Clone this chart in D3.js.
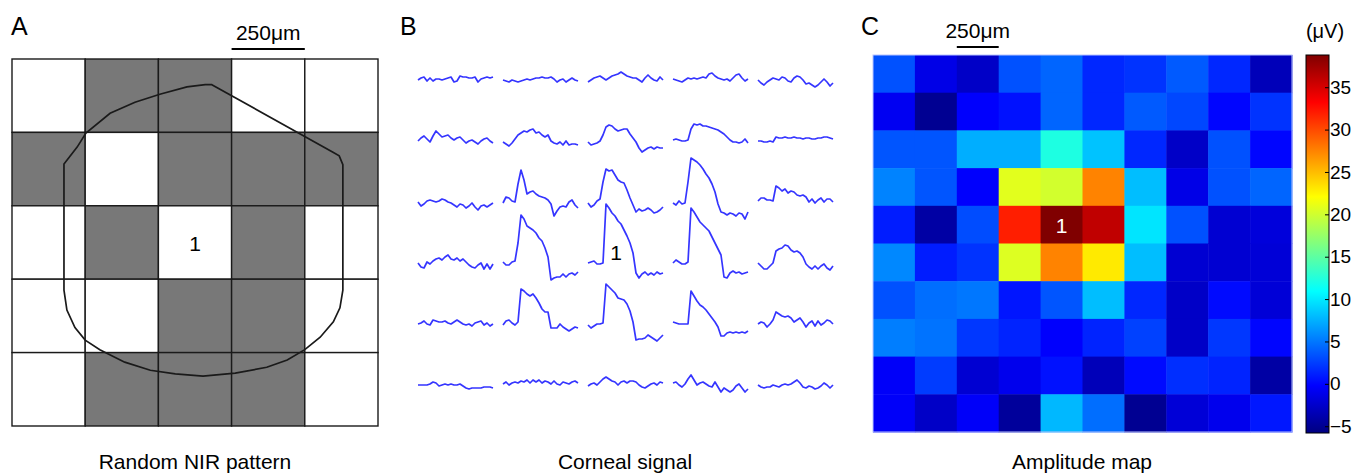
<!DOCTYPE html>
<html>
<head>
<meta charset="utf-8">
<script src="https://cdn.jsdelivr.net/npm/d3@7"></script>
<style>
  body { margin: 0; background: #fff; }
  svg { font-family: "Liberation Sans", Arial, sans-serif; }
</style>
</head>
<body>
<div id="fig"></div>
<script>
// ---- data ----
// panel A: 5x5 NIR stimulus pattern (1 = grey / dark square)
var nirPattern = [
  [0, 1, 1, 0, 0],
  [1, 0, 1, 1, 1],
  [0, 1, 0, 1, 0],
  [0, 0, 1, 1, 0],
  [0, 1, 1, 1, 0]
];
// cornea outline, in grid units (col, row)
var corneaOutline = [
  [2.73, 0.35], [4.385, 1.27], [4.47, 1.32], [4.52, 1.44], [4.52, 3.15],
  [4.48, 3.39], [4.39, 3.58], [4.21, 3.79], [4.0, 3.96], [3.76, 4.1],
  [3.48, 4.2], [3.05, 4.28], [2.61, 4.32], [2.23, 4.29], [1.89, 4.24],
  [1.54, 4.13], [1.2, 3.96], [1.0, 3.83], [0.86, 3.66], [0.75, 3.42],
  [0.71, 3.15], [0.71, 1.43], [0.89, 1.2], [1.01, 1.01], [1.34, 0.74],
  [1.68, 0.59], [2.02, 0.48], [2.39, 0.38], [2.64, 0.35]
];

// panel B: corneal signal traces, traces[row][col], 26 samples each (uV)
var traces = [
  [
    [0, 2, 3, -1, 2, -1, 1, 1, 0, 1, 2, 3, -2, -1, 4, 3, 3, 2, 2, 3, -2, 1, 2, 3, 2, 3],
    [0, -1, -2, 0, -1, -2, -1, 0, 1, 0, 1, 2, 2, 3, 2, 2, 3, 1, -2, 0, 1, -2, 0, 2, 0, -1],
    [-2, 0, 2, 3, 4, 2, 0, 2, 4, 5, 6, 8, 6, 4, 3, 2, 2, 0, -2, 2, 5, 2, 0, -1, 3, 0],
    [1, 0, -1, -2, 0, 2, 1, 2, 1, 2, 3, 2, 6, 7, 4, 2, 1, 0, 1, -1, 2, 5, 6, 2, -1, 1],
    [0, -3, -5, -2, 0, 2, 1, 0, 3, 2, -1, -2, 2, 4, 3, 0, -4, -3, -5, -7, -5, -2, 1, -2, -6, -3]
  ],
  [
    [0, 3, 5, 2, -1, 5, 10, 7, 4, 5, 6, 3, 1, 3, 4, 1, -2, 0, 1, -1, -3, 0, 2, 3, 0, -2],
    [-1, -3, -5, -2, 2, 6, 8, 10, 9, 11, 12, 8, 9, 6, 4, 6, 0, -2, -3, -1, -4, 0, -4, -3, -3, -4],
    [-1, -4, -3, -2, 0, 6, 14, 16, 15, 12, 10, 11, 12, 12, 7, 3, -1, -7, -11, -9, -7, -6, -8, -6, -7, -7],
    [1, 2, 1, 0, 0, 1, 12, 17, 16, 17, 15, 15, 14, 13, 12, 11, 9, 7, 4, 1, -1, -1, -2, -1, 2, -2],
    [0, 0, -1, -1, 0, -1, 4, 3, 3, 4, 3, 3, 4, 3, 3, 2, 3, 3, 2, 2, 3, 3, 4, 4, 3, 2]
  ],
  [
    [0, -4, -2, 1, 2, 1, 0, 1, 3, 2, 0, -1, -3, -5, -2, -3, -6, -4, -1, -5, -8, -4, -3, -5, -3, -1],
    [-1, 5, 4, 1, 0, 18, 32, 22, 8, 10, 11, 8, 6, 5, 4, 2, -2, -14, -9, -5, -4, -5, 0, 2, -3, -6],
    [-1, -5, -3, 1, 3, 20, 33, 31, 32, 27, 22, 20, 19, 12, 4, -3, -10, -7, -9, -8, -6, -8, -11, -10, -8, -5],
    [-1, -3, 1, -2, -1, 20, 44, 42, 40, 37, 33, 28, 24, 18, 10, -2, -10, -11, -13, -11, -12, -14, -11, -12, -17, -10],
    [1, 4, 4, 2, 2, 1, 16, 14, 11, 13, 9, 11, 10, 7, 6, 7, 5, 0, 3, -1, 2, 4, 0, 3, 3, 0]
  ],
  [
    [0, -4, -5, 1, -1, 2, 4, 5, 3, 6, 8, 4, 3, 5, 2, 4, 1, -2, -4, -5, -2, 0, -6, -1, -6, -1],
    [1, -2, -2, 1, 2, 20, 48, 44, 37, 35, 33, 30, 25, 22, 15, 6, -17, -15, -14, -14, -11, -14, -11, -10, -12, -9],
    [0, 1, 2, -1, -1, 0, 59, 55, 50, 47, 42, 39, 33, 27, 20, 10, -10, -15, -11, -9, -12, -10, -12, -9, -11, -10],
    [0, 3, 1, -1, -1, 1, 55, 51, 46, 41, 38, 35, 32, 26, 20, 14, 8, -14, -15, -10, -8, -10, -9, -11, -10, -9],
    [0, -3, -6, -6, -3, 0, 12, 14, 15, 18, 17, 13, 11, 12, 10, 6, -1, -4, -6, -3, -6, -3, -1, -5, -7, -3]
  ],
  [
    [0, 1, 3, 0, -1, 4, 3, 2, 2, 3, 1, 0, 2, 4, 2, 0, -1, 0, -2, 1, 2, 3, -1, 1, -2, 0],
    [-1, 3, 4, 1, -1, 2, 35, 33, 30, 28, 30, 26, 21, 15, 12, 12, -4, -4, -4, 0, -3, -5, -7, -5, -3, -4],
    [-1, -4, -2, 0, 0, 1, 40, 37, 34, 31, 26, 25, 24, 20, 13, 2, -16, -15, -15, -14, -11, -13, -15, -17, -14, -11],
    [2, 1, 0, 0, 0, 0, 33, 28, 23, 19, 17, 14, 10, 6, 2, -3, -12, -12, -9, -8, -9, -8, -9, -8, -9, -7],
    [0, 2, 1, -3, 0, 4, 12, 10, 8, 7, 8, 6, 2, 4, 6, 2, -3, 1, 3, -2, 3, -1, 1, 4, 3, 0]
  ],
  [
    [0, 0, 0, 0, 1, 3, 2, -1, 0, 1, 0, 1, 0, 0, 1, -1, -3, -4, -3, -3, -3, -3, -2, -2, -2, -3],
    [1, 3, 0, 2, 3, 2, 4, 3, 5, 2, 5, 3, 5, 2, 4, 3, 1, 4, 1, 0, 3, 2, 1, 3, 4, 2],
    [-1, 1, 2, 0, 3, 6, 8, 6, 4, 3, 0, 3, 4, 2, 4, 4, 3, 0, -2, -3, -1, 1, 2, 0, 3, 2],
    [2, 3, 0, -2, 1, 6, 10, 5, 0, 2, 3, 1, -1, -2, 3, -2, -7, -3, -5, -7, -5, -1, 1, -3, -7, -4],
    [0, -2, -3, -2, -2, 0, -1, -2, 0, 1, 0, 1, 3, 5, 2, -2, -3, -1, -2, -4, -3, -1, 2, 0, -3, 0]
  ]
];

// panel C: amplitude map (uV), 10 x 10
var ampMap = [
  [3.3, -1.3, -2.7, 3.3, 4.2, 1.5, 2.0, 3.7, 1.5, -3.3],
  [-0.8, -5.0, -0.3, 0.5, 4.2, 1.5, 3.7, 2.9, 0.0, 2.0],
  [3.5, 3.5, 7.4, 7.4, 12.2, 8.3, 1.5, -2.7, 3.3, 0.0],
  [5.5, 3.5, -0.3, 20.8, 20.1, 27.5, 8.1, -1.3, 3.3, 4.2],
  [1.0, -4.2, 3.1, 31.9, 38.8, 36.0, 9.8, 3.3, -2.2, -1.8],
  [5.7, 1.0, 2.0, 20.6, 27.5, 23.0, 8.1, -2.2, -2.2, -2.0],
  [3.3, 4.6, 5.0, 0.7, 3.5, 8.1, 1.5, -2.7, 0.2, -2.0],
  [5.3, 4.8, 2.2, 1.3, -0.3, 1.3, 2.6, -2.7, 2.2, 0.0],
  [-0.5, 2.4, -2.2, -1.0, 0.5, -3.3, 0.2, 1.8, 1.3, -4.2],
  [-0.5, -2.7, -0.5, -4.6, 7.8, 4.6, -5.0, -2.0, -1.0, 0.8]
];
var colorDomain = [-5.8, 38.8];
var cbTicks = [-5, 0, 5, 10, 15, 20, 25, 30, 35];
// MATLAB jet colormap stops
var jetStops = [0, 0.125, 0.375, 0.625, 0.875, 1];
var jetColors = ["#000080", "#0000ff", "#00ffff", "#ffff00", "#ff0000", "#800000"];

var panelTitles = ["Random NIR pattern", "Corneal signal", "Amplitude map"];

// ---- svg ----
var W = 1368, H = 476;
var svg = d3.select("#fig").append("svg")
    .attr("width", W)
    .attr("height", H);

var font = "Liberation Sans, Arial, sans-serif";

// ================= Panel A =================
var gx = d3.scaleLinear().domain([0, 5]).range([12, 378]);
var gy = d3.scaleLinear().domain([0, 5]).range([59, 426]);

var cellsA = [];
nirPattern.forEach(function(row, r) {
    row.forEach(function(v, c) { cellsA.push({r: r, c: c, v: v}); });
});

svg.append("g").selectAll("rect")
    .data(cellsA)
    .enter().append("rect")
    .attr("x", function(d) { return gx(d.c); })
    .attr("y", function(d) { return gy(d.r); })
    .attr("width", gx(1) - gx(0))
    .attr("height", gy(1) - gy(0))
    .attr("fill", function(d) { return d.v ? "#787878" : "#ffffff"; })
    .attr("stroke", "#1a1a1a")
    .attr("stroke-width", 1.4);

svg.append("path")
    .datum(corneaOutline)
    .attr("fill", "none")
    .attr("stroke", "#1a1a1a")
    .attr("stroke-width", 1.7)
    .attr("d", d3.line()
        .x(function(d) { return gx(d[0]); })
        .y(function(d) { return gy(d[1]); })
        .curve(d3.curveLinearClosed));

svg.append("text")
    .attr("x", gx(2.5))
    .attr("y", gy(2.5) + 8)
    .attr("text-anchor", "middle")
    .style("font-size", "21px")
    .text("1");

// scale bar A (one cell = 250 um)
svg.append("line")
    .attr("x1", gx(3)).attr("x2", gx(4))
    .attr("y1", 49).attr("y2", 49)
    .attr("stroke", "#000").attr("stroke-width", 2.2);
svg.append("text")
    .attr("x", (gx(3) + gx(4)) / 2)
    .attr("y", 40)
    .attr("text-anchor", "middle")
    .style("font-size", "21px")
    .text("250\u03bcm");

// ================= Panel B =================
var colX = d3.scaleLinear().domain([0, 4]).range([418, 758]);
var rowY = d3.scaleLinear().domain([0, 5]).range([80, 385]);
var tx = d3.scaleLinear().domain([0, 25]).range([0, 75]);
var ty = d3.scaleLinear().domain([-20, 60]).range([20, -60]);

var traceList = [];
traces.forEach(function(row, r) {
    row.forEach(function(vals, c) { traceList.push({r: r, c: c, vals: vals}); });
});

svg.append("g").selectAll("path")
    .data(traceList)
    .enter().append("path")
    .attr("transform", function(d) { return "translate(" + colX(d.c) + "," + rowY(d.r) + ")"; })
    .attr("fill", "none")
    .attr("stroke", "#3535ff")
    .attr("stroke-width", 1.7)
    .attr("stroke-linejoin", "round")
    .attr("d", function(d) {
        return d3.line()
            .x(function(v, i) { return tx(i); })
            .y(function(v) { return ty(v); })(d.vals);
    });

svg.append("text")
    .attr("x", 616)
    .attr("y", 260)
    .attr("text-anchor", "middle")
    .style("font-size", "21px")
    .text("1");

// ================= Panel C =================
var hx = d3.scaleBand().domain(d3.range(10)).range([873, 1292]);
var hy = d3.scaleBand().domain(d3.range(10)).range([55, 432]);
var jet = d3.scaleLinear()
    .domain(jetStops.map(function(s) { return colorDomain[0] + s * (colorDomain[1] - colorDomain[0]); }))
    .range(jetColors)
    .interpolate(d3.interpolateRgb)
    .clamp(true);

var cellsC = [];
ampMap.forEach(function(row, r) {
    row.forEach(function(v, c) { cellsC.push({r: r, c: c, v: v}); });
});

svg.append("g").selectAll("rect")
    .data(cellsC)
    .enter().append("rect")
    .attr("x", function(d) { return hx(d.c); })
    .attr("y", function(d) { return hy(d.r); })
    .attr("width", hx.bandwidth() + 0.5)
    .attr("height", hy.bandwidth() + 0.5)
    .attr("fill", function(d) { return jet(d.v); });

svg.append("rect")
    .attr("x", 873).attr("y", 55)
    .attr("width", 1292 - 873).attr("height", 432 - 55)
    .attr("fill", "none")
    .attr("stroke", "#b8c4ff")
    .attr("stroke-width", 1);

svg.append("text")
    .attr("x", hx(4) + hx.bandwidth() / 2)
    .attr("y", hy(4) + hy.bandwidth() / 2 + 8)
    .attr("text-anchor", "middle")
    .attr("fill", "#ffffff")
    .style("font-size", "21px")
    .text("1");

// scale bar C (one cell = 250 um)
svg.append("line")
    .attr("x1", hx(2)).attr("x2", hx(3))
    .attr("y1", 47).attr("y2", 47)
    .attr("stroke", "#000").attr("stroke-width", 2.2);
svg.append("text")
    .attr("x", hx(2) + hx.bandwidth() / 2)
    .attr("y", 38)
    .attr("text-anchor", "middle")
    .style("font-size", "21px")
    .text("250\u03bcm");

// colorbar
var cbX = 1306, cbW = 23;
var cbY = d3.scaleLinear().domain(colorDomain).range([433, 55]);
var grad = svg.append("defs").append("linearGradient")
    .attr("id", "jetGrad")
    .attr("x1", 0).attr("y1", 1).attr("x2", 0).attr("y2", 0);
grad.selectAll("stop")
    .data(jetStops)
    .enter().append("stop")
    .attr("offset", function(d) { return d; })
    .attr("stop-color", function(d, i) { return jetColors[i]; });

svg.append("rect")
    .attr("x", cbX).attr("y", cbY(colorDomain[1]))
    .attr("width", cbW).attr("height", cbY(colorDomain[0]) - cbY(colorDomain[1]))
    .attr("fill", "url(#jetGrad)")
    .attr("stroke", "#000")
    .attr("stroke-width", 1);

var cbAxis = svg.append("g")
    .attr("transform", "translate(" + (cbX + cbW) + ",0)")
    .call(d3.axisRight(cbY).tickValues(cbTicks).tickSize(-4).tickPadding(3));
cbAxis.select(".domain").remove();
cbAxis.selectAll("line").attr("stroke", "#000");
cbAxis.selectAll("text")
    .attr("x", 1)
    .style("font-family", font)
    .style("font-size", "19px")
    .attr("fill", "#000");

svg.append("text")
    .attr("x", 1325)
    .attr("y", 38)
    .attr("text-anchor", "middle")
    .style("font-size", "20px")
    .text("(\u03bcV)");

// ================= panel letters and titles =================
svg.selectAll(".plabel")
    .data([["A", 11], ["B", 400], ["C", 861]])
    .enter().append("text")
    .attr("class", "plabel")
    .attr("x", function(d) { return d[1]; })
    .attr("y", 35)
    .style("font-size", "25px")
    .text(function(d) { return d[0]; });

svg.selectAll(".ptitle")
    .data(panelTitles)
    .enter().append("text")
    .attr("class", "ptitle")
    .attr("x", function(d, i) { return [195, 625, 1082][i]; })
    .attr("y", 469)
    .attr("text-anchor", "middle")
    .style("font-size", "21px")
    .text(function(d) { return d; });
</script>
</body>
</html>
